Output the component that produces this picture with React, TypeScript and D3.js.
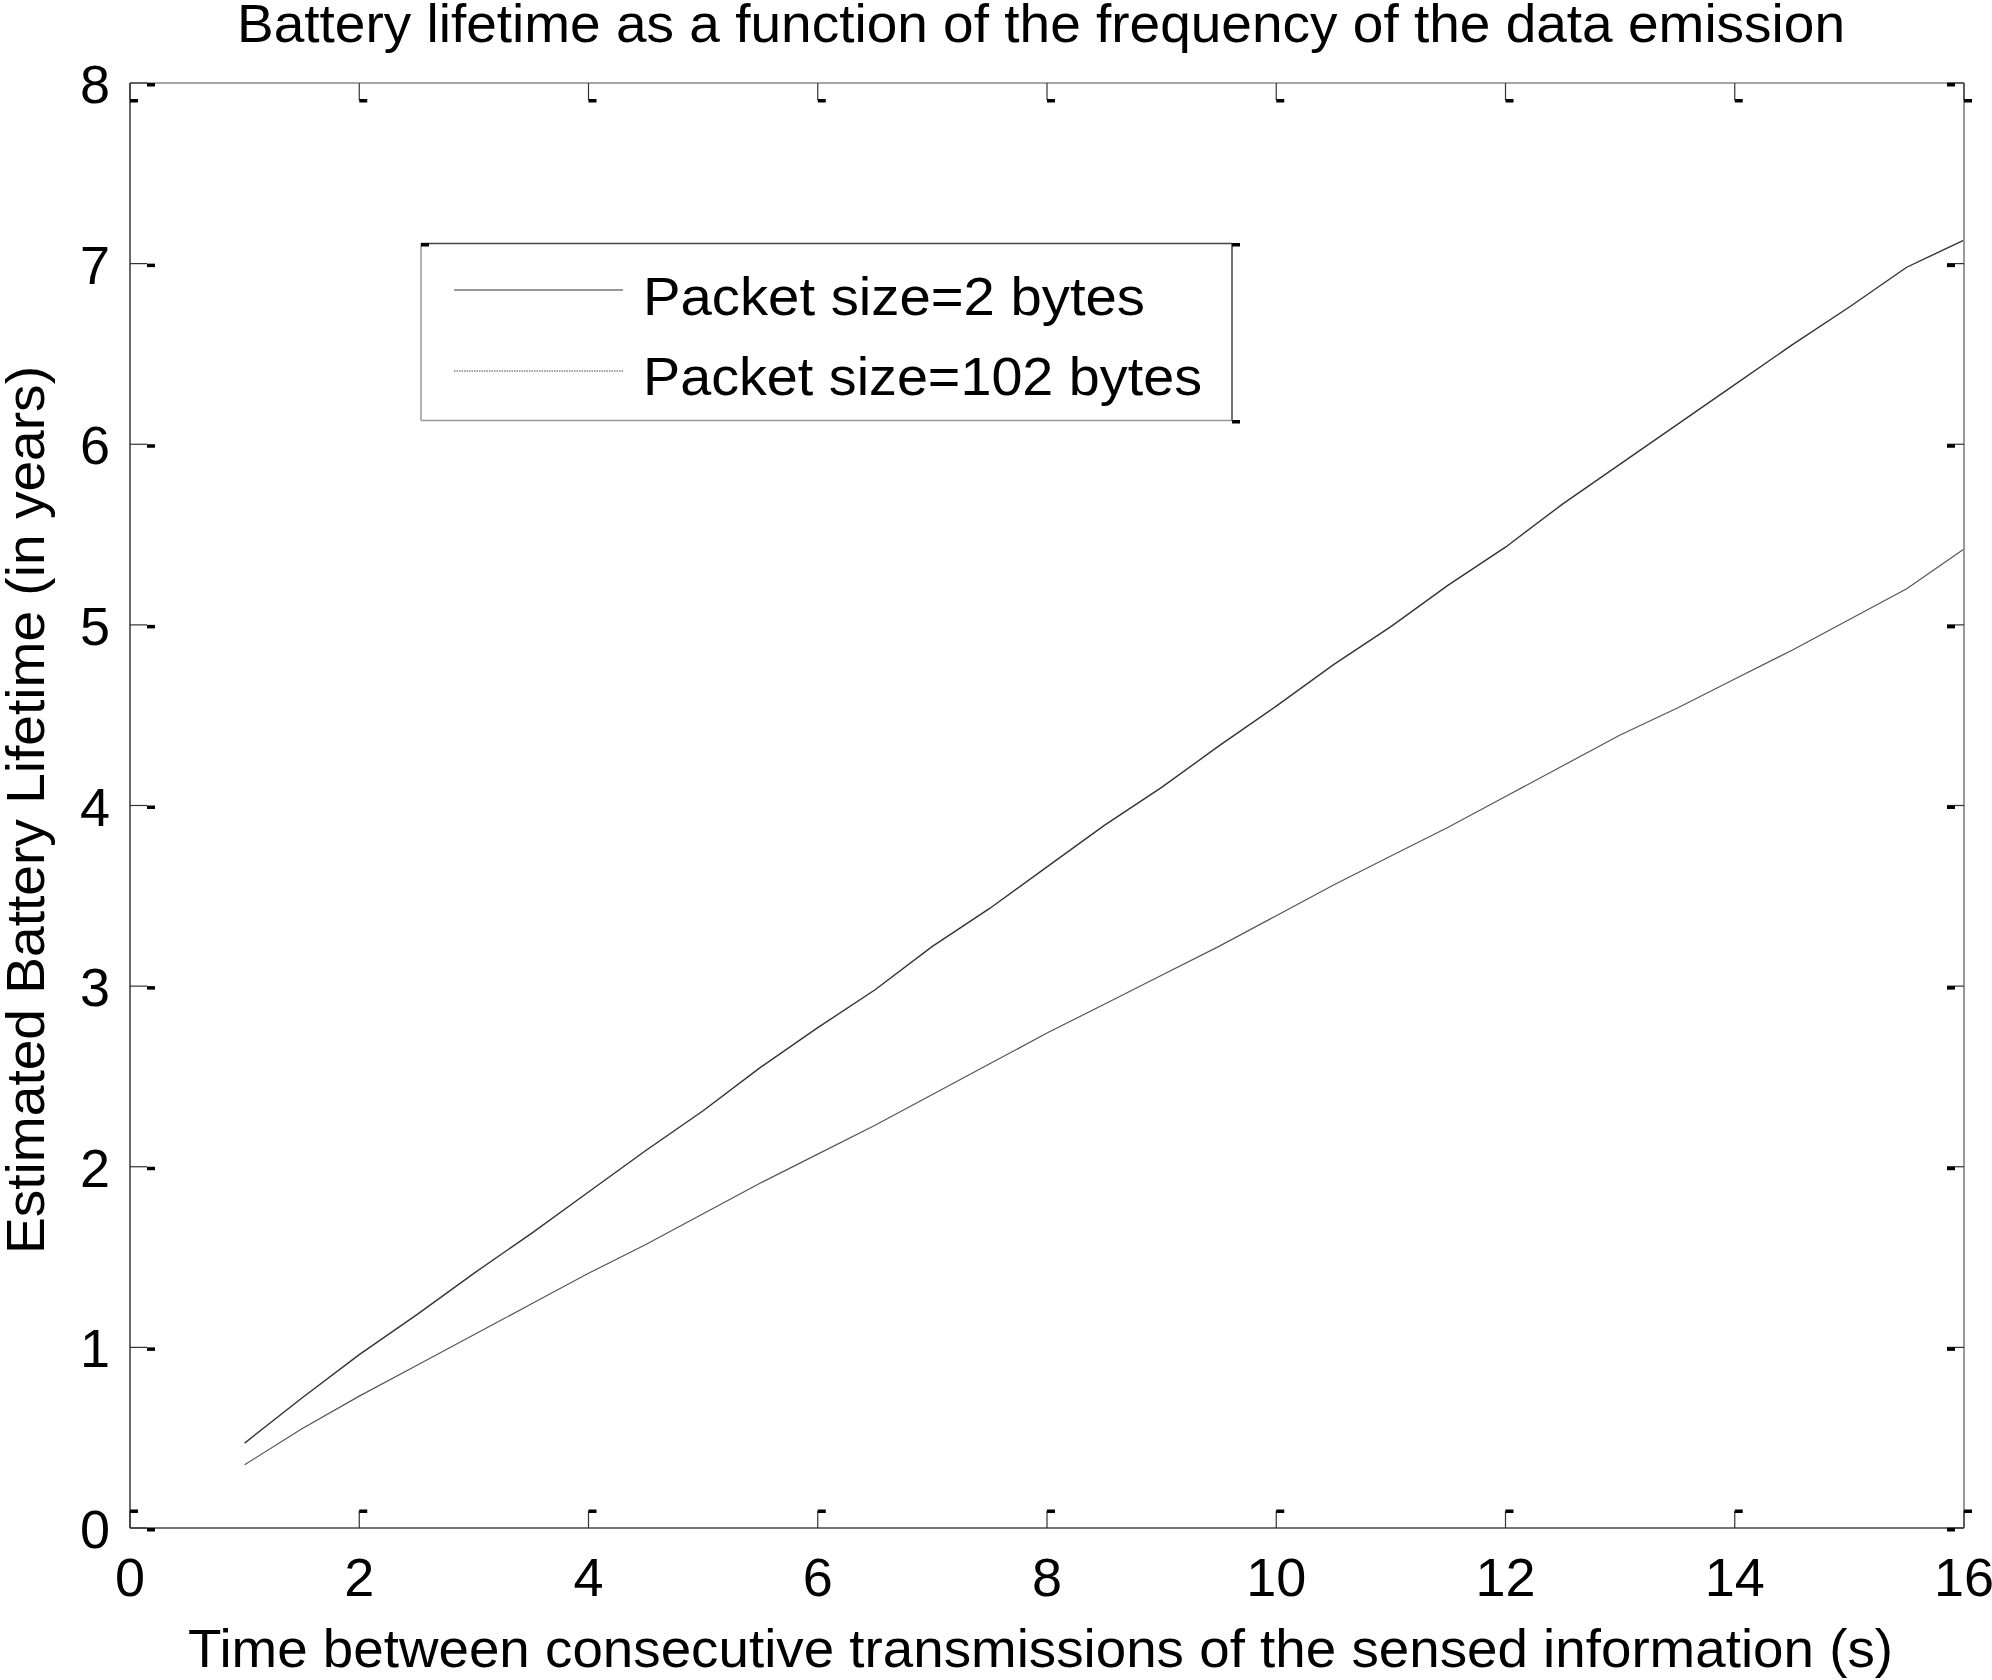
import React from "react";
import * as d3 from "d3";

const timeValues = [1, 1.5, 2, 2.5, 3, 3.5, 4, 4.5, 5, 5.5, 6, 6.5, 7, 7.5, 8, 8.5, 9, 9.5, 10, 10.5, 11, 11.5, 12, 12.5, 13, 13.5, 14, 14.5, 15, 15.5, 16];
const lifetime2Bytes = [0.47, 0.72, 0.96, 1.18, 1.41, 1.63, 1.86, 2.09, 2.31, 2.55, 2.77, 2.98, 3.22, 3.43, 3.66, 3.89, 4.1, 4.33, 4.55, 4.78, 4.99, 5.22, 5.43, 5.67, 5.89, 6.11, 6.33, 6.55, 6.76, 6.98, 7.13];
const lifetime102Bytes = [0.35, 0.55, 0.73, 0.9, 1.07, 1.24, 1.41, 1.57, 1.74, 1.91, 2.07, 2.23, 2.4, 2.57, 2.74, 2.9, 3.06, 3.22, 3.39, 3.56, 3.72, 3.88, 4.05, 4.22, 4.39, 4.54, 4.7, 4.86, 5.03, 5.2, 5.42];
const xTicks = [0, 2, 4, 6, 8, 10, 12, 14, 16];
const yTicks = [0, 1, 2, 3, 4, 5, 6, 7, 8];
const seriesNames = ["Packet size=2 bytes", "Packet size=102 bytes"];
const titleText = "Battery lifetime as a function of the frequency of the data emission";
const xLabelText = "Time between consecutive transmissions of the sensed information (s)";
const yLabelText = "Estimated Battery Lifetime (in years)";

const W = 1992;
const H = 1680;
const L = 130, R = 1964, T = 83, B = 1528;
const FONT = "'Liberation Sans', Arial, Helvetica, sans-serif";
const FS = 54;

export default function App() {
  const x = d3.scaleLinear().domain([0, 16]).range([L, R]);
  const y = d3.scaleLinear().domain([0, 8]).range([B, T]);
  const line = d3
    .line<number>()
    .x((_, i) => x(timeValues[i]))
    .y((d) => y(d));

  const tickLen = 17;
  const dashW = 8;
  const dashH = 3.5;

  return (
    <svg
      width={W}
      height={H}
      viewBox={`0 0 ${W} ${H}`}
      style={{ position: "absolute", left: 0, top: 0, display: "block", background: "#fff" }}
    >
      <rect x={0} y={0} width={W} height={H} fill="#fff" />
      {/* title */}
      <text x={237} y={42} fontFamily={FONT} fontSize={FS} fill="#000" textLength={1608} lengthAdjust="spacingAndGlyphs">
        {titleText}
      </text>

      {/* data lines */}
      <path d={line(lifetime2Bytes) || ""} fill="none" stroke="#333" strokeWidth={1.4} />
      <path d={line(lifetime102Bytes) || ""} fill="none" stroke="#555" strokeWidth={1.2} />

      {/* axes box */}
      <line x1={L} y1={T} x2={R} y2={T} stroke="#888" strokeWidth={1.6} />
      <line x1={L} y1={B} x2={R} y2={B} stroke="#444" strokeWidth={1.6} />
      <line x1={L} y1={T} x2={L} y2={B} stroke="#444" strokeWidth={1.6} />
      <line x1={R} y1={T} x2={R} y2={B} stroke="#999" strokeWidth={2} />

      {/* x ticks */}
      {xTicks.map((t) => {
        const px = x(t);
        return (
          <g key={`xt${t}`}>
            <line x1={px} y1={B} x2={px} y2={B - tickLen} stroke="#333" strokeWidth={1.2} />
            <rect x={px} y={B - tickLen - 1.5} width={dashW} height={dashH} fill="#000" />
            <line x1={px} y1={T} x2={px} y2={T + tickLen} stroke="#333" strokeWidth={1.2} />
            <rect x={px} y={T + tickLen - 1} width={dashW} height={dashH} fill="#000" />
            <text x={px} y={1596} textAnchor="middle" fontFamily={FONT} fontSize={FS} fill="#000">
              {t}
            </text>
          </g>
        );
      })}

      {/* y ticks */}
      {yTicks.map((t) => {
        const py = y(t);
        return (
          <g key={`yt${t}`}>
            <line x1={L} y1={py} x2={L + tickLen} y2={py} stroke="#333" strokeWidth={1.2} />
            <rect x={L + tickLen} y={py} width={dashW} height={dashH} fill="#000" />
            <line x1={R} y1={py} x2={R - tickLen} y2={py} stroke="#333" strokeWidth={1.2} />
            <rect x={R - tickLen} y={py} width={dashW} height={dashH} fill="#000" />
            <text x={110} y={py + 20} textAnchor="end" fontFamily={FONT} fontSize={FS} fill="#000">
              {t}
            </text>
          </g>
        );
      })}

      {/* axis labels */}
      <text x={188} y={1667} fontFamily={FONT} fontSize={FS} fill="#000" textLength={1705} lengthAdjust="spacingAndGlyphs">
        {xLabelText}
      </text>
      <text
        transform={`translate(44, 810) rotate(-90)`}
        textAnchor="middle"
        fontFamily={FONT}
        fontSize={FS}
        fill="#000"
        textLength={888}
        lengthAdjust="spacingAndGlyphs"
      >
        {yLabelText}
      </text>

      {/* legend */}
      <g>
        <rect x={421} y={243.5} width={811} height={177} fill="#fff" stroke="none" />
        <line x1={421} y1={243.5} x2={1232} y2={243.5} stroke="#444" strokeWidth={1.5} />
        <line x1={421} y1={420.5} x2={1232} y2={420.5} stroke="#999" strokeWidth={1.5} />
        <line x1={421} y1={243.5} x2={421} y2={420.5} stroke="#999" strokeWidth={1.5} />
        <line x1={1232} y1={243.5} x2={1232} y2={420.5} stroke="#444" strokeWidth={1.5} />
        <rect x={421} y={243} width={8} height={3.5} fill="#000" />
        <rect x={1232} y={243} width={8} height={3.5} fill="#000" />
        <rect x={1232} y={420} width={8} height={3.5} fill="#000" />
        <line x1={454} y1={290} x2={623} y2={290} stroke="#777" strokeWidth={1.4} />
        <line x1={454} y1={371} x2={623} y2={371} stroke="#444" strokeWidth={1.1} strokeDasharray="1.5 1" />
        <text x={643} y={315} fontFamily={FONT} fontSize={FS} fill="#000" textLength={502} lengthAdjust="spacingAndGlyphs">
          {seriesNames[0]}
        </text>
        <text x={643} y={395} fontFamily={FONT} fontSize={FS} fill="#000" textLength={559} lengthAdjust="spacingAndGlyphs">
          {seriesNames[1]}
        </text>
      </g>
    </svg>
  );
}
